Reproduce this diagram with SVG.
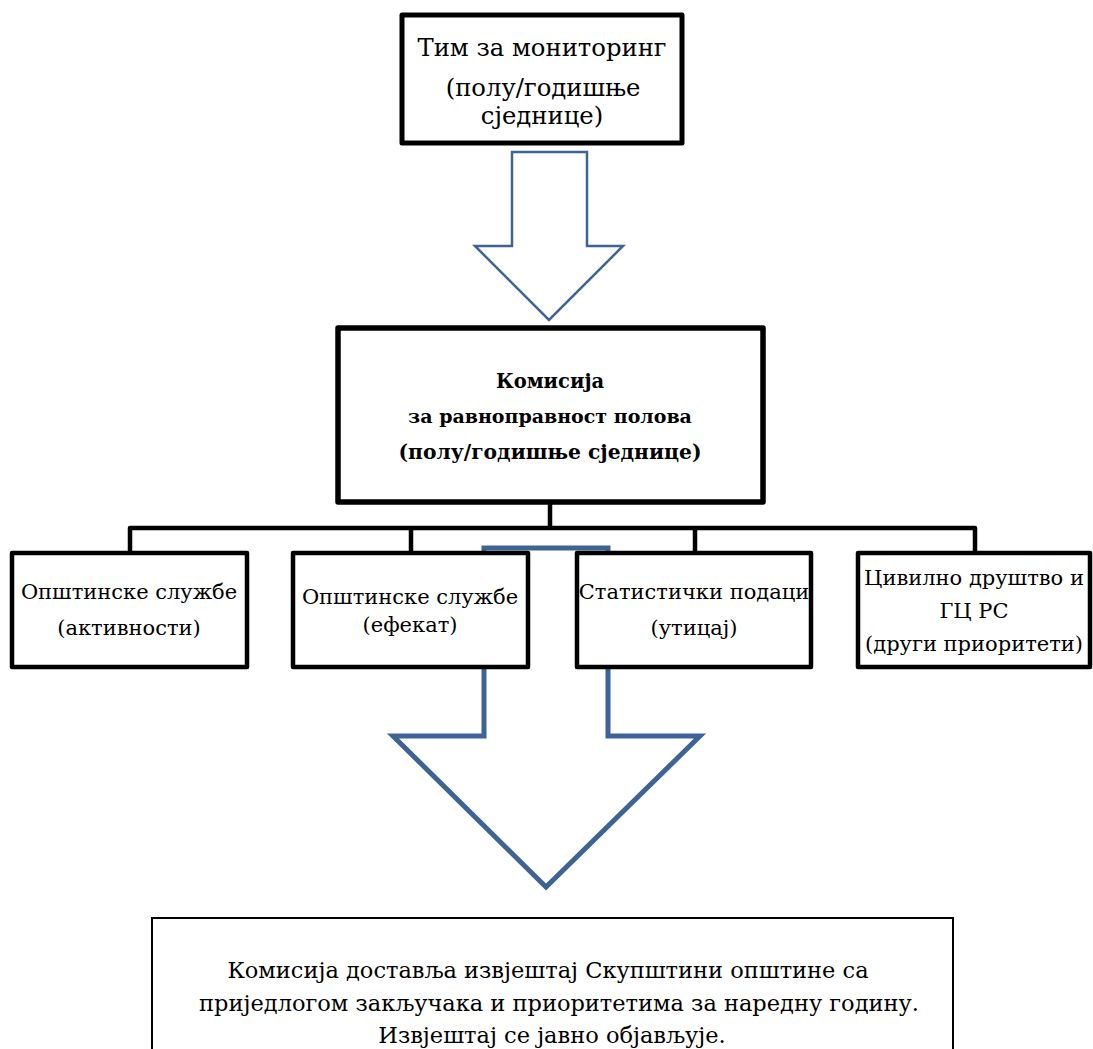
<svg xmlns="http://www.w3.org/2000/svg" width="1093" height="1049" viewBox="0 0 1093 1049">
<style>
.box{fill:#fff;stroke:#000;stroke-width:4.5;stroke-linejoin:round}
.t{font-family:"DejaVu Serif","Liberation Serif",serif;font-size:21px;fill:#000;text-anchor:middle}
.t25{font-size:24.3px}
.t22{font-size:22.5px}
.tb{font-family:"DejaVu Serif","Liberation Serif",serif;font-size:19.5px;font-weight:bold;fill:#000;text-anchor:middle}
.arrow{fill:#fff;stroke:#3f6394;stroke-linejoin:miter}
.conn{fill:none;stroke:#000;stroke-width:4.5;stroke-linejoin:round}
</style>
<rect width="1093" height="1049" fill="#fff"/>
<g id="connectors">
<path class="arrow" stroke-width="2.5" d="M512,152 H587 V246 H623 L549,320 L475,246 H512 Z"/>
<path class="conn" d="M550,502 V528"/>
<path class="conn" d="M130,553 V528 H975 V553"/>
<path class="conn" d="M411,528 V553"/>
<path class="conn" d="M695,528 V553"/>
<path class="arrow" stroke-width="5" d="M484,548 H608 V736 H700 L546,887 L393,736 H484 Z"/>
</g>
<g id="team">
<rect class="box" x="402" y="15" width="280" height="128" style="stroke-width:5"/>
<text class="t t25" x="542" y="56">Тим за мониторинг</text>
<text class="t t25" x="543" y="96">(полу/годишње</text>
<text class="t t25" x="542" y="124">сједнице)</text>
</g>
<g id="commission">
<rect class="box" x="338" y="328" width="425" height="174" style="stroke-width:5.5"/>
<text class="tb" x="550" y="388">Комисија</text>
<text class="tb" x="550" y="423" style="font-size:19px">за равноправност полова</text>
<text class="tb" x="550" y="459" style="font-size:20.3px">(полу/годишње сједнице)</text>
</g>
<g id="services-activities">
<rect class="box" x="12" y="553" width="235" height="114"/>
<text class="t" x="129" y="599">Општинске службе</text>
<text class="t" x="129" y="635">(активности)</text>
</g>
<g id="services-effect">
<rect class="box" x="293" y="553" width="235" height="114"/>
<text class="t" x="410" y="604">Општинске службе</text>
<text class="t" x="410" y="632">(ефекат)</text>
</g>
<g id="statistics">
<rect class="box" x="577" y="553" width="234" height="114"/>
<text class="t" x="694" y="599">Статистички подаци</text>
<text class="t" x="694" y="635">(утицај)</text>
</g>
<g id="civil-society">
<rect class="box" x="858" y="553" width="232" height="114"/>
<text class="t" x="974" y="585">Цивилно друштво и</text>
<text class="t" x="974" y="618">ГЦ РС</text>
<text class="t" x="974" y="651">(други приоритети)</text>
</g>
<g id="report">
<path d="M152,1049 V918 H953 V1049" fill="#fff" stroke="#000" stroke-width="2"/>
<text class="t t22" x="548" y="978">Комисија доставља извјештај Скупштини општине са</text>
<text class="t t22" x="559" y="1011">приједлогом закључака и приоритетима за наредну годину.</text>
<text class="t t22" x="552" y="1043">Извјештај се јавно објављује.</text>
</g>
</svg>
